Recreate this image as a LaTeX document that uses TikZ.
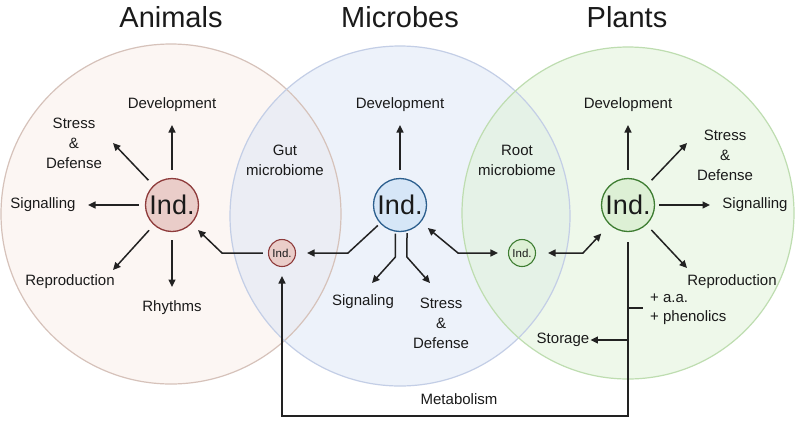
\documentclass[tikz,border=0pt]{standalone}
\usepackage{fontspec}
\setmainfont{Liberation Sans}
\usetikzlibrary{arrows.meta}
\definecolor{anifill}{HTML}{F8E6DE}
\definecolor{anidraw}{HTML}{D6C2BA}
\definecolor{micfill}{HTML}{DCE6F6}
\definecolor{micdraw}{HTML}{C3CEE6}
\definecolor{plafill}{HTML}{DFF2D6}
\definecolor{pladraw}{HTML}{BEDDB0}
\definecolor{aind}{HTML}{EACDC9}
\definecolor{aindd}{HTML}{8E3B3B}
\definecolor{mind}{HTML}{D6E6F7}
\definecolor{mindd}{HTML}{2C5F8E}
\definecolor{pind}{HTML}{DDF0D5}
\definecolor{pindd}{HTML}{3E7D32}
\definecolor{lin}{HTML}{222222}
\definecolor{txt}{HTML}{1A1A1A}
\begin{document}
\begin{tikzpicture}[x=1pt,y=-1pt,
  lbl/.style={font=\fontsize{15}{20}\selectfont, align=center, inner sep=0pt, text=txt},
  ttl/.style={font=\fontsize{29}{34}\selectfont, inner sep=0pt, text=txt},
  bigind/.style={circle, minimum size=53pt, inner sep=0pt, line width=1.3pt, text=txt, font=\fontsize{27}{30}\selectfont},
  smallind/.style={circle, minimum size=27pt, inner sep=0pt, line width=1.1pt, text=txt, font=\fontsize{11.5}{12}\selectfont},
  arr/.style={draw=lin, line width=1.5pt, -{Triangle[length=7.5pt,width=7pt]}},
  darr/.style={draw=lin, line width=1.5pt, {Triangle[length=7.5pt,width=7pt]}-{Triangle[length=7.5pt,width=7pt]}},
  plain/.style={draw=lin, line width=1.5pt}
]
\useasboundingbox (0,0) rectangle (800,421);
\fill[white] (0,0) rectangle (800,421);

% Venn circles
\fill[anifill, fill opacity=0.35] (171,214) circle[radius=170];
\fill[micfill, fill opacity=0.5] (400,216) circle[radius=170];
\fill[plafill, fill opacity=0.5] (628,213) circle[radius=166];
\draw[anidraw, line width=1.2pt] (171,214) circle[radius=170];
\draw[micdraw, line width=1.2pt] (400,216) circle[radius=170];
\draw[pladraw, line width=1.2pt] (628,213) circle[radius=166];

% titles
\node[ttl] (tA) at (171,17) {Animals};
\node[ttl] (tM) at (400,17) {Microbes};
\node[ttl] (tP) at (627,17) {Plants};

% Ind nodes
\node[bigind, fill=aind, draw=aindd] (aI) at (172,205) {Ind.};
\node[bigind, fill=mind, draw=mindd] (mI) at (400,205) {Ind.};
\node[bigind, fill=pind, draw=pindd] (pI) at (628,205) {Ind.};
\node[smallind, fill=aind, draw=aindd] (g) at (282,253) {Ind.};
\node[smallind, fill=pind, draw=pindd] (r) at (522,253) {Ind.};

% Animal labels
\node[lbl] (aDev) at (172,105) {Development};
\node[lbl] (aStr) at (74,143) {Stress\\\&\\Defense};
\node[lbl] (aSig) at (43,205) {Signalling};
\node[lbl] (aRep) at (70,282) {Reproduction};
\node[lbl] (aRhy) at (172,308) {Rhythms};
% Microbe labels
\node[lbl] (mDev) at (400,105) {Development};
\node[lbl] (gut) at (285,160) {Gut\\microbiome};
\node[lbl] (root) at (517,160) {Root\\microbiome};
\node[lbl] (mSig) at (363,302) {Signaling};
\node[lbl] (mStr) at (441,323) {Stress\\\&\\Defense};
% Plant labels
\node[lbl] (pDev) at (628,105) {Development};
\node[lbl] (pStr) at (725,155) {Stress\\\&\\Defense};
\node[lbl] (pSig) at (755,205) {Signalling};
\node[lbl] (pRep) at (732,282) {Reproduction};
\node[lbl, anchor=west] (aa) at (650,298) {+ a.a.};
\node[lbl, anchor=west] (phen) at (650,318) {+ phenolics};
\node[lbl] (stor) at (563,340) {Storage};
\node[lbl] (met) at (459,399) {Metabolism};

% coordinates
\coordinate (aDevT) at (172,125);
\coordinate (aStrT) at (113,143);
\coordinate (aSigT) at (88,205);
\coordinate (aRepT) at (113,270);
\coordinate (aRhyT) at (172,287);
\coordinate (gA) at (222,253);
\coordinate (mDevT) at (400,125);
\coordinate (mg1) at (348,253);
\coordinate (ms2) at (395.4,257);
\coordinate (msT) at (372,283);
\coordinate (md2) at (406.9,257);
\coordinate (mdT) at (430,283);
\coordinate (rm1) at (458,253);
\coordinate (rp1) at (583,253);
\coordinate (pDevT) at (628,125);
\coordinate (pStrT) at (687,143);
\coordinate (pSigT) at (710,205);
\coordinate (pRepT) at (687,268);
\coordinate (mb1) at (628,416);
\coordinate (mb2) at (282,416);
\coordinate (aaL) at (628,308);
\coordinate (aaR) at (643,308);
\coordinate (st0) at (628,340);

% Animal arrows
\draw[arr, shorten <=8pt] (aI) -- (aDevT);
\draw[arr, shorten <=7pt] (aI) -- (aStrT);
\draw[arr, shorten <=6pt] (aI) -- (aSigT);
\draw[arr, shorten <=7pt] (aI) -- (aRepT);
\draw[arr, shorten <=8pt] (aI) -- (aRhyT);
\draw[arr, shorten <=5pt, shorten >=9pt] (g) -- (gA) -- (aI);
% Microbe arrows
\draw[arr, shorten <=8pt] (mI) -- (mDevT);
\draw[arr, shorten <=3pt, shorten >=11pt] (mI) -- (mg1) -- (g);
\draw[arr, shorten <=2pt] (mI.-100) -- (ms2) -- (msT);
\draw[arr, shorten <=2pt] (mI.-75) -- (md2) -- (mdT);
\draw[darr, shorten <=10pt, shorten >=9pt] (r) -- (rm1) -- (mI);
\draw[darr, shorten <=12pt, shorten >=12pt] (r) -- (rp1) -- (pI);
% Plant arrows
\draw[arr, shorten <=8pt] (pI) -- (pDevT);
\draw[arr, shorten <=7pt] (pI) -- (pStrT);
\draw[arr, shorten <=4pt] (pI) -- (pSigT);
\draw[arr, shorten <=7pt] (pI) -- (pRepT);
\draw[arr, shorten <=10pt, shorten >=9pt] (pI) -- (mb1) -- (mb2) -- (g);
\draw[plain] (aaL) -- (aaR);
\draw[arr, shorten >=1pt] (st0) -- (stor);
\end{tikzpicture}
\end{document}
